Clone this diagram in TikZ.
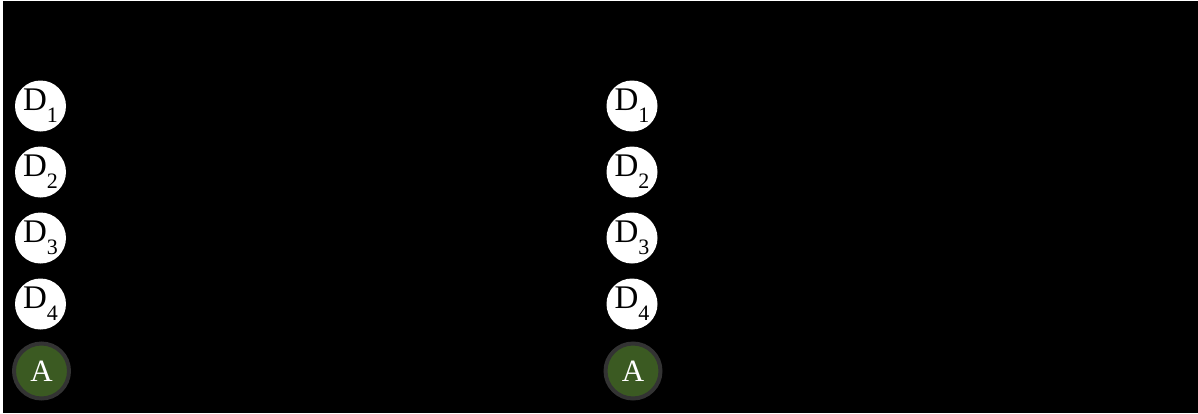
\documentclass[tikz,border=0pt]{standalone}
\usepackage{fontspec}
\setmainfont{Liberation Serif}
\definecolor{agreen}{HTML}{3B5A22}
\definecolor{aring}{HTML}{333333}
\tikzset{
  dnode/.style={circle, fill=white, draw=none, minimum size=51pt, inner sep=0pt,
    font=\fontsize{33}{36}\selectfont, text=black},
  anode/.style={circle, fill=agreen, draw=aring, line width=4pt, minimum size=55pt, inner sep=0pt,
    font=\fontsize{31}{34}\selectfont, text=white},
}
\newcommand{\dsub}[1]{\raisebox{0.08em}{D\raisebox{-0.36em}{\fontsize{22}{24}\selectfont #1}}}
\begin{document}
\begin{tikzpicture}[x=1pt,y=-1pt]
\useasboundingbox (0,0) rectangle (1198,413);
\fill[white] (0,0) rectangle (1198,413);
\fill[black] (3,1) rectangle (1198,413);
\foreach \cx/\p in {40.5/L,632/R}{
  \node[dnode] (\p1) at (\cx,106) {\dsub{1}};
  \node[dnode] (\p2) at (\cx,172) {\dsub{2}};
  \node[dnode] (\p3) at (\cx,238) {\dsub{3}};
  \node[dnode] (\p4) at (\cx,304) {\dsub{4}};
  \node[anode] (\p A) at (\cx+1,371) {A};
}
\end{tikzpicture}
\end{document}
